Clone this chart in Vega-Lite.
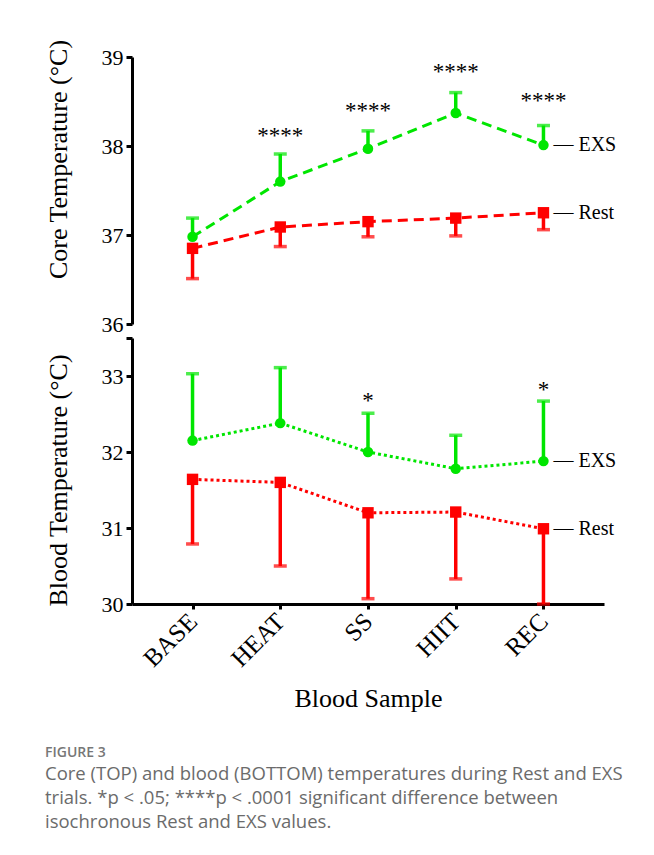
{
  "$schema": "https://vega.github.io/schema/vega-lite/v6.json",
  "background": "white",
  "padding": {"left": 44, "top": 39, "right": 0, "bottom": 0},
  "bounds": "flush",
  "config": {
    "view": {"stroke": null},
    "axis": {
      "grid": false,
      "domainColor": "black",
      "domainWidth": 3,
      "tickColor": "black",
      "tickWidth": 3,
      "labelColor": "black",
      "titleColor": "black",
      "labelFont": "Liberation Serif",
      "titleFont": "Liberation Serif",
      "titleFontWeight": "normal"
    },
    "axisY": {
      "format": "d",
      "tickSize": 6,
      "labelFontSize": 22,
      "labelPadding": 3,
      "titleFontSize": 26,
      "titlePadding": 30
    }
  },
  "datasets": {
    "core": [
      {"series": "EXS", "sample": "BASE", "mean": 36.98, "err": 37.19},
      {"series": "EXS", "sample": "HEAT", "mean": 37.60, "err": 37.91},
      {"series": "EXS", "sample": "SS", "mean": 37.97, "err": 38.17},
      {"series": "EXS", "sample": "HIIT", "mean": 38.37, "err": 38.60},
      {"series": "EXS", "sample": "REC", "mean": 38.01, "err": 38.23},
      {"series": "Rest", "sample": "BASE", "mean": 36.85, "err": 36.51},
      {"series": "Rest", "sample": "HEAT", "mean": 37.09, "err": 36.87},
      {"series": "Rest", "sample": "SS", "mean": 37.15, "err": 36.98},
      {"series": "Rest", "sample": "HIIT", "mean": 37.19, "err": 36.99},
      {"series": "Rest", "sample": "REC", "mean": 37.25, "err": 37.06}
    ],
    "blood": [
      {"series": "EXS", "sample": "BASE", "mean": 32.15, "err": 33.03},
      {"series": "EXS", "sample": "HEAT", "mean": 32.38, "err": 33.11},
      {"series": "EXS", "sample": "SS", "mean": 32.00, "err": 32.51},
      {"series": "EXS", "sample": "HIIT", "mean": 31.78, "err": 32.22},
      {"series": "EXS", "sample": "REC", "mean": 31.88, "err": 32.67},
      {"series": "Rest", "sample": "BASE", "mean": 31.64, "err": 30.79},
      {"series": "Rest", "sample": "HEAT", "mean": 31.60, "err": 30.50},
      {"series": "Rest", "sample": "SS", "mean": 31.20, "err": 30.07},
      {"series": "Rest", "sample": "HIIT", "mean": 31.21, "err": 30.33},
      {"series": "Rest", "sample": "REC", "mean": 30.99, "err": 30.00}
    ],
    "coreStars": [
      {"sample": "HEAT", "pos": 38.03, "mark": "****"},
      {"sample": "SS", "pos": 38.31, "mark": "****"},
      {"sample": "HIIT", "pos": 38.75, "mark": "****"},
      {"sample": "REC", "pos": 38.43, "mark": "****"}
    ],
    "bloodStars": [
      {"sample": "SS", "pos": 32.58, "mark": "*"},
      {"sample": "REC", "pos": 32.73, "mark": "*"}
    ]
  },
  "title": {
    "text": "FIGURE 3",
    "subtitle": [
      "Core (TOP) and blood (BOTTOM) temperatures during Rest and EXS",
      "trials. *p < .05; ****p < .0001 significant difference between",
      "isochronous Rest and EXS values."
    ],
    "orient": "bottom",
    "anchor": "start",
    "frame": "bounds",
    "offset": 35,
    "font": "Open Sans",
    "fontSize": 14,
    "fontWeight": 600,
    "color": "#777777",
    "subtitleFont": "Open Sans",
    "subtitleFontSize": 18.5,
    "subtitleColor": "#6b6b6b",
    "subtitleLineHeight": 24,
    "subtitlePadding": 5
  },
  "spacing": 14,
  "vconcat": [
    {
      "width": 472,
      "height": 267,
      "encoding": {
        "x": {"field": "sample", "type": "ordinal", "scale": {"type": "point", "domain": ["BASE", "HEAT", "SS", "HIIT", "REC"], "padding": 0.69}, "axis": null}
      },
      "layer": [
        {
          "data": {"name": "core"},
          "mark": {"type": "line", "strokeWidth": 3, "strokeDash": [10, 6]},
          "encoding": {
            "y": {"field": "mean", "type": "quantitative", "title": "Core Temperature (°C)",
              "scale": {"domain": [36, 39], "nice": false, "zero": false},
              "axis": {"values": [36, 37, 38, 39], "titleY": 102}},
            "color": {"field": "series", "type": "nominal", "scale": {"domain": ["EXS", "Rest"], "range": ["#00e600", "#ff0000"]}, "legend": null}
          }
        },
        {
          "data": {"name": "core"},
          "mark": {"type": "rule", "strokeWidth": 3.5},
          "encoding": {
            "y": {"field": "mean", "type": "quantitative", "title": "Core Temperature (°C)"},
            "y2": {"field": "err"},
            "color": {"field": "series", "type": "nominal", "legend": null}
          }
        },
        {
          "data": {"name": "core"},
          "mark": {"type": "tick", "orient": "horizontal", "thickness": 3.5, "size": 13},
          "encoding": {
            "y": {"field": "err", "type": "quantitative", "title": "Core Temperature (°C)"},
            "color": {"field": "series", "type": "nominal", "legend": null}
          }
        },
        {
          "data": {"name": "core"},
          "mark": {"type": "point", "filled": true, "opacity": 1},
          "encoding": {
            "y": {"field": "mean", "type": "quantitative", "title": "Core Temperature (°C)"},
            "color": {"field": "series", "type": "nominal", "legend": null},
            "shape": {"field": "series", "type": "nominal", "scale": {"domain": ["EXS", "Rest"], "range": ["circle", "square"]}, "legend": null},
            "size": {"field": "series", "type": "nominal", "scale": {"domain": ["EXS", "Rest"], "range": [110, 130]}, "legend": null}
          }
        },
        {
          "data": {"name": "core"},
          "transform": [{"filter": "datum.sample === 'REC'"}, {"calculate": "'— ' + datum.series", "as": "tag"}],
          "mark": {"type": "text", "align": "left", "baseline": "middle", "dx": 10, "font": "Liberation Serif", "fontSize": 20, "color": "black"},
          "encoding": {
            "y": {"field": "mean", "type": "quantitative", "title": "Core Temperature (°C)"},
            "text": {"field": "tag"}
          }
        },
        {
          "data": {"name": "coreStars"},
          "mark": {"type": "text", "align": "center", "baseline": "alphabetic", "font": "Liberation Serif", "fontSize": 23, "color": "black"},
          "encoding": {
            "y": {"field": "pos", "type": "quantitative", "title": "Core Temperature (°C)"},
            "text": {"field": "mark"}
          }
        }
      ]
    },
    {
      "width": 472,
      "height": 266,
      "encoding": {
        "x": {"field": "sample", "type": "ordinal", "title": "Blood Sample",
          "scale": {"type": "point", "domain": ["BASE", "HEAT", "SS", "HIIT", "REC"], "padding": 0.69},
          "axis": {"labelAngle": -45, "labelAlign": "right", "labelBaseline": "middle", "labelFontSize": 25, "labelPadding": 8, "tickSize": 5, "titleFontSize": 26, "titlePadding": 14}}
      },
      "layer": [
        {
          "data": {"name": "blood"},
          "mark": {"type": "line", "strokeWidth": 3, "strokeDash": [3, 3]},
          "encoding": {
            "y": {"field": "mean", "type": "quantitative", "title": "Blood Temperature (°C)",
              "scale": {"domain": [30, 33.5], "nice": false, "zero": false},
              "axis": {"values": [30, 31, 32, 33, 33.5], "labelExpr": "datum.value > 33.2 ? '' : datum.label", "titleY": 142}},
            "color": {"field": "series", "type": "nominal", "scale": {"domain": ["EXS", "Rest"], "range": ["#00e600", "#ff0000"]}, "legend": null}
          }
        },
        {
          "data": {"name": "blood"},
          "mark": {"type": "rule", "strokeWidth": 3.5},
          "encoding": {
            "y": {"field": "mean", "type": "quantitative", "title": "Blood Temperature (°C)"},
            "y2": {"field": "err"},
            "color": {"field": "series", "type": "nominal", "legend": null}
          }
        },
        {
          "data": {"name": "blood"},
          "mark": {"type": "tick", "orient": "horizontal", "thickness": 3.5, "size": 13},
          "encoding": {
            "y": {"field": "err", "type": "quantitative", "title": "Blood Temperature (°C)"},
            "color": {"field": "series", "type": "nominal", "legend": null}
          }
        },
        {
          "data": {"name": "blood"},
          "mark": {"type": "point", "filled": true, "opacity": 1},
          "encoding": {
            "y": {"field": "mean", "type": "quantitative", "title": "Blood Temperature (°C)"},
            "color": {"field": "series", "type": "nominal", "legend": null},
            "shape": {"field": "series", "type": "nominal", "scale": {"domain": ["EXS", "Rest"], "range": ["circle", "square"]}, "legend": null},
            "size": {"field": "series", "type": "nominal", "scale": {"domain": ["EXS", "Rest"], "range": [110, 130]}, "legend": null}
          }
        },
        {
          "data": {"name": "blood"},
          "transform": [{"filter": "datum.sample === 'REC'"}, {"calculate": "'— ' + datum.series", "as": "tag"}],
          "mark": {"type": "text", "align": "left", "baseline": "middle", "dx": 10, "font": "Liberation Serif", "fontSize": 20, "color": "black"},
          "encoding": {
            "y": {"field": "mean", "type": "quantitative", "title": "Blood Temperature (°C)"},
            "text": {"field": "tag"}
          }
        },
        {
          "data": {"name": "bloodStars"},
          "mark": {"type": "text", "align": "center", "baseline": "alphabetic", "font": "Liberation Serif", "fontSize": 23, "color": "black"},
          "encoding": {
            "y": {"field": "pos", "type": "quantitative", "title": "Blood Temperature (°C)"},
            "text": {"field": "mark"}
          }
        }
      ]
    }
  ]
}
